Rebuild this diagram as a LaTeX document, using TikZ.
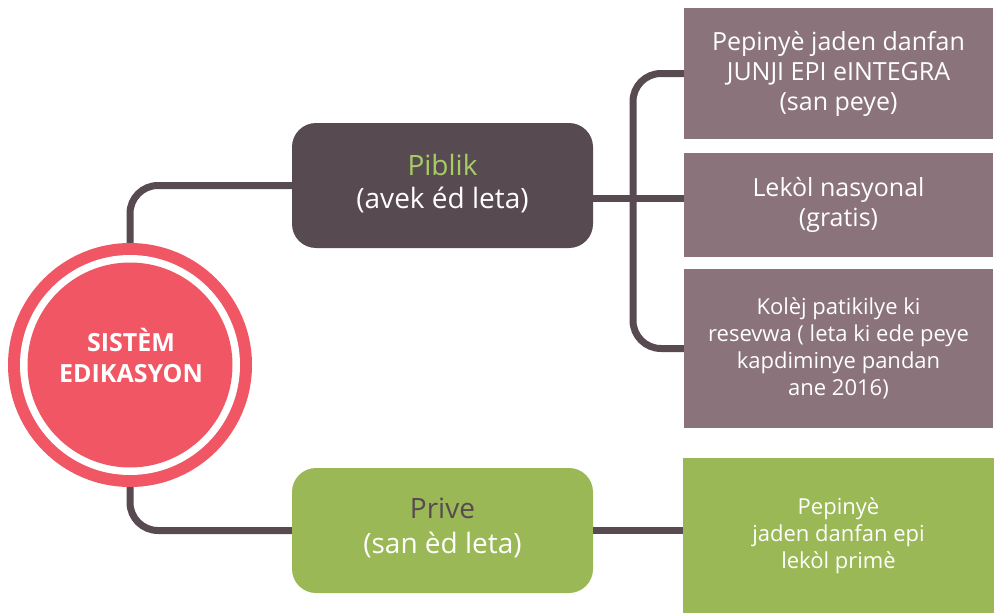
\documentclass[tikz,border=0pt]{standalone}
\usepackage{fontspec}
\setmainfont{Open Sans}
\definecolor{dark}{HTML}{584A51}
\definecolor{mauve}{HTML}{8A737A}
\definecolor{grn}{HTML}{9AB855}
\definecolor{lgrn}{HTML}{A8CC64}
\definecolor{redc}{HTML}{F05664}
\tikzset{
  conn/.style={draw=dark, line width=7pt},
  midbox/.style={rounded corners=24pt, minimum width=301pt, inner sep=0pt},
  rbox/.style={fill=mauve, minimum width=309pt, align=center, text=white, inner sep=0pt},
}
\begin{document}
\begin{tikzpicture}[x=1pt,y=-1pt]
\useasboundingbox (0,0) rectangle (994,613);
% nodes
\node[circle, fill=redc, minimum size=244pt, inner sep=0pt] (c) at (130,365) {};
\node[circle, fill=white, minimum size=220pt, inner sep=0pt] (cw) at (c) {};
\node[circle, fill=redc, minimum size=205pt, inner sep=0pt] (ci) at (c) {};
\node[text=white, align=center, font=\bfseries\fontsize{25}{31}\selectfont] (ct) at (131,355)
  {SISTÈM\\EDIKASYON};
\node[midbox, fill=dark, minimum height=125pt] (pub) at (442.5,185.5) {};
\node[text=white, align=center, font=\fontsize{28}{33}\selectfont] (pubt) at (442.5,184)
  {\textcolor{lgrn}{Piblik}\\(avek éd leta)};
\node[midbox, fill=grn, minimum height=125pt] (priv) at (442.5,530.5) {};
\node[text=white, align=center, font=\fontsize{28}{35}\selectfont] (privt) at (442.5,528)
  {\textcolor{dark}{Prive}\\(san èd leta)};
\node[rbox, minimum height=131pt, font=\fontsize{25}{30}\selectfont] (b1) at (838.5,73.5)
  {Pepinyè jaden danfan\\JUNJI EPI eINTEGRA\\(san peye)};
\node[rbox, minimum height=104pt, font=\fontsize{25}{30}\selectfont] (b2) at (838.5,205)
  {Lekòl nasyonal\\(gratis)};
\node[rbox, minimum height=159pt, font=\fontsize{22}{27}\selectfont] (b3) at (838.5,348.5)
  {Kolèj patikilye ki\\resevwa ( leta ki ede peye\\kapdiminye pandan\\ane 2016)};
\node[fill=grn, minimum width=311pt, minimum height=155pt, inner sep=0pt, align=center,
      text=white, font=\fontsize{22}{27}\selectfont] (g) at (838.5,535.5)
  {Pepinyè\\jaden danfan epi\\lekòl primè};
\coordinate (bus) at (633,198);
% connectors
\draw[conn, rounded corners=28pt] (c.north) |- (pub.west);
\draw[conn, rounded corners=28pt] (c.south) |- (priv.west);
\draw[conn] ([yshift=-12.5pt]pub.east) -- ([yshift=7pt]b2.west);
\draw[conn, rounded corners=28pt] (b1.west) -| (bus) |- (b3.west);
\draw[conn] (priv.east) -- (priv.east -| g.west);
\end{tikzpicture}
\end{document}
